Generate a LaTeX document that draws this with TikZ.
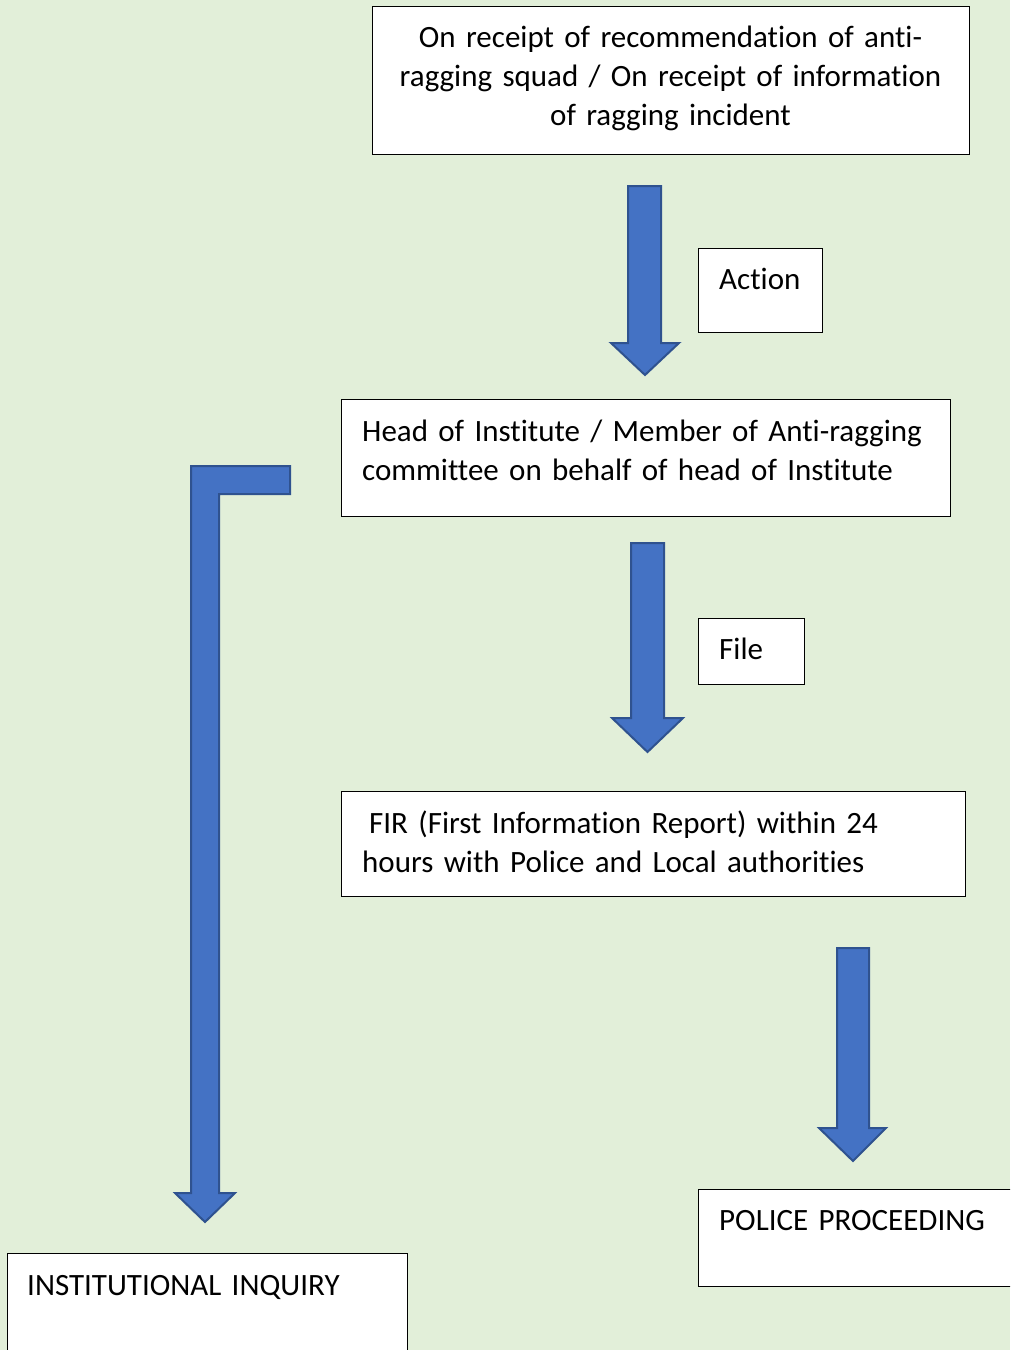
\documentclass[tikz,border=0pt]{standalone}
\usepackage{fontspec}
\setmainfont[Ligatures={NoCommon}]{Carlito}
\definecolor{bg}{HTML}{E2EFD9}
\definecolor{arrfill}{HTML}{4472C4}
\definecolor{arrline}{HTML}{2F528F}
\newcommand{\boxtextfont}{\fontsize{31}{39}\selectfont\spaceskip=0.3333em\relax}
\begin{document}
\begin{tikzpicture}[x=1pt,y=-1pt,
  box/.style={draw=black, line width=1.3pt, fill=white, inner sep=0pt, anchor=north west},
  txt/.style={inner sep=0pt, font=\boxtextfont},
  blockarrow/.style={draw=arrline, line width=2pt, fill=arrfill, line join=miter}]
\clip (0,0) rectangle (1010,1350);
\fill[bg] (0,0) rectangle (1010,1350);
\useasboundingbox (0,0) rectangle (1010,1350);

% boxes
\node[box, minimum width=597pt, minimum height=148pt] (b1) at (372,6) {};
\node[box, minimum width=124pt, minimum height=84pt] (act) at (698,248) {};
\node[box, minimum width=609pt, minimum height=117pt] (b2) at (341,399) {};
\node[box, minimum width=106pt, minimum height=66pt] (file) at (698,618) {};
\node[box, minimum width=624pt, minimum height=105pt] (b3) at (341,791) {};
\node[box, minimum width=330pt, minimum height=97pt] (pol) at (698,1189) {};
\node[box, minimum width=400pt, minimum height=120pt] (inq) at (7,1253) {};

% texts
\node[txt, anchor=base, text width=590pt, align=center] (b1t) at (670.5,47)
  {On receipt of recommendation of anti-\\ragging squad / On receipt of information\\of ragging incident};
\node[txt, anchor=base west] (actt) at (719,289) {Action};
\node[txt, anchor=base west, text width=590pt, align=left] (b2t) at (362,441)
  {Head of Institute / Member of Anti-ragging\\committee on behalf of head of Institute};
\node[txt, anchor=base west] (filet) at (719,659) {File};
\node[txt, anchor=base west, text width=600pt, align=left] (b3t) at (362,833)
  {\hspace*{7pt}FIR (First Information Report) within 24\\hours with Police and Local authorities};
\node[txt, anchor=base west] (polt) at (719,1230) {POLICE PROCEEDING};
\node[txt, anchor=base west] (inqt) at (27,1295) {INSTITUTIONAL INQUIRY};

% block arrows
\draw[blockarrow] (628,186) -- (661,186) -- (661,343) -- (679,343) -- (645,375)
  -- (611,343) -- (628,343) -- cycle;
\draw[blockarrow] (631,543) -- (664,543) -- (664,718) -- (683,718) -- (647.5,752)
  -- (612,718) -- (631,718) -- cycle;
\draw[blockarrow] (837,948) -- (869,948) -- (869,1128) -- (886,1128) -- (853,1161)
  -- (819,1128) -- (837,1128) -- cycle;
\draw[blockarrow] (191,466) -- (290,466) -- (290,494) -- (219,494) -- (219,1193)
  -- (235,1193) -- (205,1222) -- (175,1193) -- (191,1193) -- cycle;
\end{tikzpicture}
\end{document}
